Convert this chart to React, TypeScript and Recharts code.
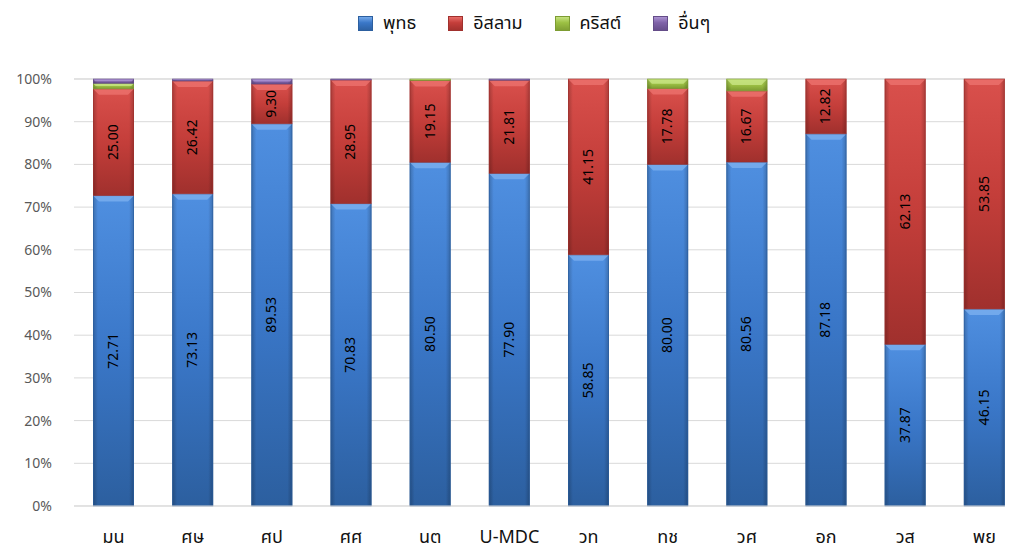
import { BarChart, Bar, XAxis, YAxis, CartesianGrid, LabelList } from 'recharts'

// ─── Data ────────────────────────────────────────────────────────────────────

const categories = ['มน', 'ศษ', 'ศป', 'ศศ', 'นต', 'U-MDC', 'วท', 'ทช', 'วศ', 'อก', 'วส', 'พย']
const buddhist = [72.71, 73.13, 89.53, 70.83, 80.5, 77.9, 58.85, 80.0, 80.56, 87.18, 37.87, 46.15]
const islam = [25.0, 26.42, 9.3, 28.95, 19.15, 21.81, 41.15, 17.78, 16.67, 12.82, 62.13, 53.85]
const christian = [1.27, 0, 0, 0, 0.35, 0, 0, 2.22, 2.77, 0, 0, 0]
const other = [1.02, 0.45, 1.17, 0.22, 0, 0.29, 0, 0, 0, 0, 0, 0]
const yTicks = [0, 10, 20, 30, 40, 50, 60, 70, 80, 90, 100]

const data = categories.map((name, i) => ({
  name,
  buddhist: buddhist[i],
  islam: islam[i],
  christian: christian[i],
  other: other[i],
}))

const FONT = '"Leelawadee UI", Tahoma, "Noto Sans Thai", "Noto Sans", "DejaVu Sans", sans-serif'

const SERIES = [
  { key: 'buddhist', name: 'พุทธ', light: '#4f8fe0', mid: '#3a77c8', dark: '#2c5f9f', top: '#7fb2f0', label: true },
  { key: 'islam', name: 'อิสลาม', light: '#d9504c', mid: '#c43e3a', dark: '#a0302d', top: '#ee7470', label: true },
  { key: 'christian', name: 'คริสต์', light: '#b2d65a', mid: '#9cc043', dark: '#7d9c32', top: '#cce78a', label: false },
  { key: 'other', name: 'อื่นๆ', light: '#9477bf', mid: '#7f62a8', dark: '#644c88', top: '#b29ad8', label: false },
]

// ─── Bevelled bar segment ─────────────────────────────────────────────────────

function BevelBar(props: any) {
  const { x, y, width, height, seriesKey } = props
  if (!height || height <= 0) return null
  const s = SERIES.find(v => v.key === seriesKey)!
  const b = Math.min(6, height / 2)
  return (
    <g>
      <rect x={x} y={y} width={width} height={height} fill={`url(#v-${s.key})`} />
      <rect x={x} y={y} width={width} height={height} fill="url(#sides)" />
      <polygon
        points={`${x},${y} ${x + width},${y} ${x + width - b},${y + b} ${x + b},${y + b}`}
        fill={s.top}
        opacity={0.75}
      />
      <rect x={x + 0.5} y={y} width={width - 1} height={height} fill="none" stroke={s.dark} strokeWidth={1} strokeOpacity={0.6} />
    </g>
  )
}

// ─── Rotated value label ──────────────────────────────────────────────────────

function VLabel(props: any) {
  const { x, y, width, height, value } = props
  if (!value || height < 20) return null
  const cx = x + width / 2
  const cy = y + height / 2
  return (
    <text
      x={cx}
      y={cy}
      transform={`rotate(-90 ${cx} ${cy})`}
      textAnchor="middle"
      dominantBaseline="central"
      fontSize={14}
      fill="#000"
      fontFamily={FONT}
    >
      {Number(value).toFixed(2)}
    </text>
  )
}

function XTick(props: any) {
  const { x, y, payload } = props
  return (
    <text x={x} y={y + 37} textAnchor="middle" fontSize={18} fill="#111" fontFamily={FONT}>
      {payload.value}
    </text>
  )
}

function LegendRow() {
  return (
    <div
      style={{
        position: 'absolute', left: 358, top: 10, display: 'flex', alignItems: 'center',
        fontFamily: FONT, fontSize: 18, color: '#111', whiteSpace: 'nowrap',
      }}
    >
      {SERIES.map(s => (
        <div key={s.key} style={{ display: 'flex', alignItems: 'center', marginRight: 32 }}>
          <span
            style={{
              width: 15, height: 15, marginRight: 10, display: 'inline-block',
              background: `linear-gradient(180deg, ${s.top} 0%, ${s.mid} 45%, ${s.dark} 100%)`,
              boxShadow: `inset 0 0 0 1px ${s.dark}`,
            }}
          />
          <span>{s.name}</span>
        </div>
      ))}
    </div>
  )
}

export default function App() {
  return (
    <div style={{ position: 'absolute', left: 0, top: 0, width: 1014, height: 552, background: '#fff', overflow: 'hidden' }}>
      <LegendRow />
      <BarChart width={1014} height={552} data={data} margin={{ top: 79, right: 9, left: 0, bottom: 0 }} barSize={41}>
        <defs>
          {SERIES.map(s => (
            <linearGradient key={s.key} id={`v-${s.key}`} x1="0" y1="0" x2="0" y2="1">
              <stop offset="0%" stopColor={s.light} />
              <stop offset="50%" stopColor={s.mid} />
              <stop offset="100%" stopColor={s.dark} />
            </linearGradient>
          ))}
          <linearGradient id="sides" x1="0" y1="0" x2="1" y2="0">
            <stop offset="0%" stopColor="#000" stopOpacity={0.22} />
            <stop offset="12%" stopColor="#000" stopOpacity={0} />
            <stop offset="88%" stopColor="#000" stopOpacity={0} />
            <stop offset="100%" stopColor="#000" stopOpacity={0.22} />
          </linearGradient>
        </defs>
        <CartesianGrid vertical={false} stroke="#d9d9d9" />
        <XAxis
          dataKey="name"
          height={46}
          tickLine={false}
          tickSize={0}
          tickMargin={0}
          axisLine={{ stroke: '#d9d9d9' }}
          tick={<XTick />}
          padding={{ left: 0, right: -19 }}
          interval={0}
        />
        <YAxis
          width={74}
          domain={[0, 100]}
          ticks={yTicks}
          tickFormatter={(v: number) => `${v}%`}
          tickLine={false}
          axisLine={false}
          tickSize={0}
          tickMargin={22}
          tick={{ fontSize: 14, fill: '#595959', fontFamily: FONT }}
        />
        {SERIES.map(s => (
          <Bar
            key={s.key}
            dataKey={s.key}
            name={s.name}
            stackId="a"
            fill={s.mid}
            isAnimationActive={false}
            shape={(p: any) => <BevelBar {...p} seriesKey={s.key} />}
          >
            {s.label && <LabelList dataKey={s.key} content={<VLabel />} />}
          </Bar>
        ))}
      </BarChart>
    </div>
  )
}
